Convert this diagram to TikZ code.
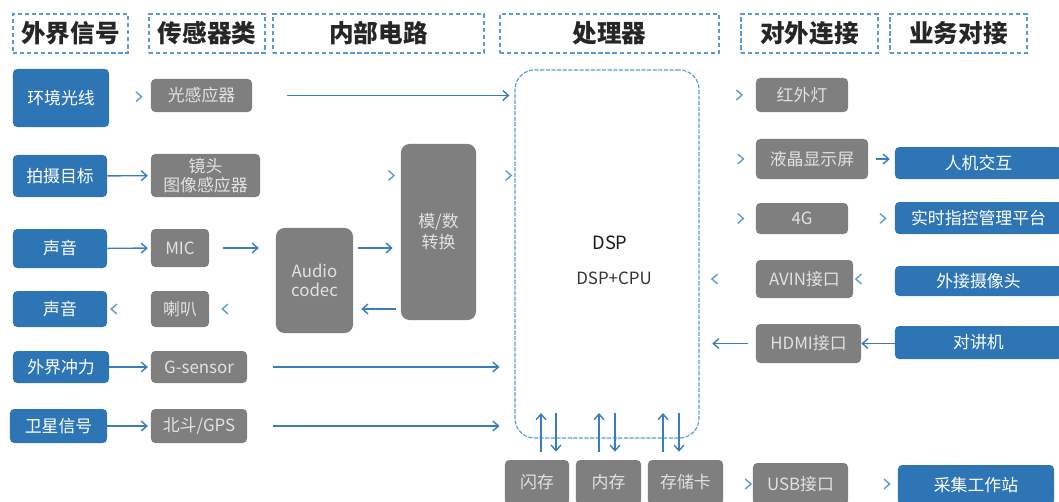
\documentclass[tikz,border=0pt]{standalone}
\usepackage{fontspec}
\setmainfont{Noto Sans CJK SC}
\usetikzlibrary{arrows.meta}
\definecolor{sigblue}{HTML}{2E75B6}
\definecolor{devgray}{HTML}{7F7F7F}
\definecolor{linkblue}{HTML}{3A7CC0}
\definecolor{tipblue}{HTML}{5B9BD5}
\definecolor{txtgray}{HTML}{E2E2E2}
\begin{document}
\begin{tikzpicture}
	[x=0.025cm,y=-0.025cm,
	hdr/.style={draw=tipblue,densely dashed,line width=0.8pt,minimum height=0.975cm,inner sep=0pt,text=black!85,font=\fontsize{17.5}{20}\selectfont\bfseries},
	sig/.style={rounded corners=3pt,fill=sigblue,text=white,inner sep=0pt,font=\fontsize{12}{14}\selectfont},
	dev/.style={rounded corners=3pt,fill=devgray,text=txtgray,inner sep=0pt,align=center,font=\fontsize{12}{14}\selectfont},
	link/.style={draw=linkblue,line width=1pt,-{Straight Barb[length=4pt,width=7pt]}},
	ghost/.style={draw=tipblue,line width=1pt,dash pattern=on 0pt off 3000pt,-{Straight Barb[length=4pt,width=7pt]}}]
	\useasboundingbox(0,0) rectangle (1059,501);
	% column titles
	\node[hdr,minimum width=2.875cm,name=h1]at(70.5,33.5){外界信号};
	\node[hdr,minimum width=2.9cm,name=h2]at(207,33.5){传感器类};
	\node[hdr,minimum width=5.275cm,name=h3]at(378.5,33.5){内部电路};
	\node[hdr,minimum width=5.475cm,name=h4]at(609.5,33.5){处理器};
	\node[hdr,minimum width=3.425cm,name=h5]at(809.5,33.5){对外连接};
	\node[hdr,minimum width=3.425cm,name=h6]at(958.5,33.5){业务对接};
	% signals
	\node[sig,minimum width=2.4cm,minimum height=1.45cm,name=s1]at(61,98){环境光线};
	\node[sig,minimum width=2.35cm,minimum height=1.05cm,name=s2]at(60,176){拍摄目标};
	\node[sig,minimum width=2.35cm,minimum height=0.975cm,name=s3]at(60,248.5){声音};
	\node[sig,minimum width=2.35cm,minimum height=0.9cm,name=s4]at(60,309){声音};
	\node[sig,minimum width=2.4cm,minimum height=0.8cm,name=s5]at(61,367){外界冲力};
	\node[sig,minimum width=2.425cm,minimum height=0.85cm,name=s6]at(58.5,426){卫星信号};
	% sensors
	\node[dev,minimum width=2.525cm,minimum height=0.825cm,name=d1]at(201.5,95.5){光感应器};
	\node[dev,minimum width=2.725cm,minimum height=1.075cm,name=d2,font=\fontsize{12}{13.5}\selectfont]at(205.5,175.5){镜头\\图像感应器};
	\node[dev,minimum width=1.45cm,minimum height=0.95cm,name=d3]at(180,248){MIC};
	\node[dev,minimum width=1.45cm,minimum height=0.9cm,name=d4]at(180,309){喇叭};
	\node[dev,minimum width=2.4cm,minimum height=0.8cm,name=d5]at(199,367){G-sensor};
	\node[dev,minimum width=2.4cm,minimum height=0.85cm,name=d6]at(199,426){北斗/GPS};
	% circuit
	\node[dev,rounded corners=6pt,minimum width=1.925cm,minimum height=2.625cm,name=codec]at(314.5,280.5){Audio\\codec};
	\node[dev,rounded corners=6pt,minimum width=1.875cm,minimum height=4.4cm,name=adc,font=\fontsize{12}{15}\selectfont]at(438.5,232){模/数\\转换};
	% processor
	\node[draw=tipblue,dash pattern=on 3pt off 1pt,line width=0.8pt,rounded corners=14pt,minimum width=4.6cm,minimum height=9.2cm,name=dsp]at(607,254){};
	\node[text=black!90,font=\fontsize{13}{15}\selectfont,name=dsptxt]at(610,243){DSP};
	\node[text=black!80,font=\fontsize{12}{14}\selectfont,name=cputxt]at(614,278){DSP+CPU};
	% memory
	\node[dev,minimum width=1.6cm,minimum height=1.125cm,name=m1]at(537,482.5){闪存};
	\node[dev,minimum width=1.625cm,minimum height=1.125cm,name=m2]at(608.5,482.5){内存};
	\node[dev,minimum width=1.875cm,minimum height=1.125cm,name=m3]at(685.5,482.5){存储卡};
	% outward links
	\node[dev,minimum width=2.3cm,minimum height=0.85cm,name=r1]at(802,95){红外灯};
	\node[dev,minimum width=2.8cm,minimum height=1cm,name=r2]at(812,159){液晶显示屏};
	\node[dev,minimum width=2.3cm,minimum height=0.775cm,name=r3]at(802,218.5){4G};
	\node[dev,minimum width=2.425cm,minimum height=0.95cm,name=r4]at(804.5,279){AVIN接口};
	\node[dev,minimum width=2.625cm,minimum height=0.975cm,name=r5]at(808.5,343.5){HDMI接口};
	\node[dev,minimum width=2.375cm,minimum height=1.05cm,name=r6]at(800.5,484){USB接口};
	% business side
	\node[sig,minimum width=4.175cm,minimum height=0.8cm,name=b1]at(978.5,163){人机交互};
	\node[sig,minimum width=4.175cm,minimum height=0.8cm,name=b2]at(978.5,218){实时指控管理平台};
	\node[sig,minimum width=4.175cm,minimum height=0.75cm,name=b3]at(978.5,281){外接摄像头};
	\node[sig,minimum width=4.175cm,minimum height=0.825cm,name=b4]at(978.5,342.5){对讲机};
	\node[sig,minimum width=3.9cm,minimum height=1cm,name=b5]at(976,485){采集工作站};
	\coordinate(m1u)at(541,413);\coordinate(m1d)at(556,413);
	\coordinate(m2u)at(599,413);\coordinate(m2d)at(615,413);
	\coordinate(m3u)at(663,413);\coordinate(m3d)at(679,413);
	% left side connectors
	\draw[ghost,shorten >=5.7pt](s1) --(d1);
	\draw[link,shorten >=2pt](s2) --(d2);
	\draw[link,shorten >=2pt](s3) --(d3);
	\draw[ghost,shorten >=2pt](d4) --(s4);
	\draw[link,shorten >=2pt](s5) --(d5);
	\draw[link,shorten >=2pt](s6) --(d6);
	\draw[link,shorten <=25pt,shorten >=3.5pt](d1.east) --(d1.east -| dsp.west);
	\draw[ghost,shorten >=4pt](d2.east) --(d2.east -| adc.west);
	\draw[ghost,shorten >=1.5pt](adc.east |- d2.east) --(dsp.west |- d2.east);
	\draw[link,shorten <=10pt,shorten >=12pt](d3.east) --(d3.east -| codec.west);
	\draw[ghost,shorten >=8.5pt](codec.west |- d4.east) --(d4.east);
	\draw[link,shorten <=3.5pt,shorten >=5.7pt](codec.east |- d3.east) --(adc.west |- d3.east);
	\draw[link,shorten <=3.5pt,shorten >=5.7pt](adc.west |- d4.east) --(codec.east |- d4.east);
	\draw[link,shorten <=18.5pt,shorten >=10.6pt](d5.east) --(d5.east -| dsp.west);
	\draw[link,shorten <=18.5pt,shorten >=10.6pt](d6.east) --(d6.east -| dsp.west);
	% right side connectors
	\draw[ghost,shorten >=9pt](dsp.east |- r1.west) --(r1.west);
	\draw[ghost,shorten >=8pt](dsp.east |- r2.west) --(r2.west);
	\draw[ghost,shorten >=8pt](dsp.east |- r3.west) --(r3.west);
	\draw[link,shorten <=5.7pt,shorten >=3.5pt](r2.east) --(r2.east -| b1.west);
	\draw[ghost,shorten >=5.7pt](r3.east) --(r3.east -| b2.west);
	\draw[ghost,shorten >=8pt](r4.west) --(r4.west -| dsp.east);
	\draw[ghost,shorten >=1pt](b3.west |- r4.east) --(r4.east);
	\draw[link,shorten <=5.7pt,shorten >=9pt](r5.west) --(r5.west -| dsp.east);
	\draw[link](b4.west |- r5.east) --(r5.east);
	\draw[ghost,shorten >=0.5pt](m3.east |- r6.west) --(r6.west);
	\draw[ghost,shorten >=5pt](r6.east) --(r6.east -| b5.west);
	% memory connectors
	\draw[link,shorten <=5.7pt](m1.north -| m1u) --(m1u);
	\draw[link,shorten >=5.7pt](m1d) --(m1.north -| m1d);
	\draw[link,shorten <=5.7pt](m2.north -| m2u) --(m2u);
	\draw[link,shorten >=5.7pt](m2d) --(m2.north -| m2d);
	\draw[link,shorten <=5.7pt](m3.north -| m3u) --(m3u);
	\draw[link,shorten >=5.7pt](m3d) --(m3.north -| m3d);
\end{tikzpicture}
\end{document}
